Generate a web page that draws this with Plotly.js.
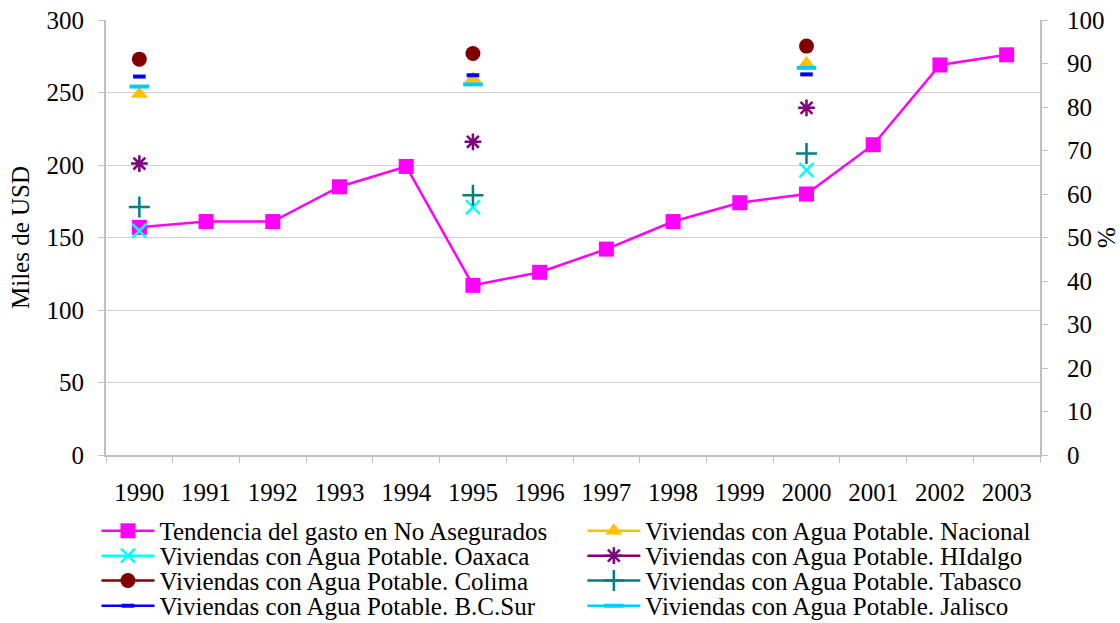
<!DOCTYPE html>
<html>
<head>
<meta charset="utf-8">
<script src="https://cdn.plot.ly/plotly-3.0.1.min.js"></script>
<style>html,body{margin:0;padding:0;background:#fff}#chart{width:1120px;height:623px}</style>
</head>
<body>
<div id="chart"></div>
<script>
const years = ["1990","1991","1992","1993","1994","1995","1996","1997","1998","1999","2000","2001","2002","2003"];
const gasto = [157,161,161,185,199,117,126,142,161,174,180,214,269,276];
const nacional = [83,null,null,null,null,86.5,null,null,null,null,90,null,null,null];
const oaxaca   = [51.5,null,null,null,null,57,null,null,null,null,65.5,null,null,null];
const hidalgo  = [67,null,null,null,null,72,null,null,null,null,79.8,null,null,null];
const colima   = [91,null,null,null,null,92.3,null,null,null,null,94,null,null,null];
const tabasco  = [57,null,null,null,null,59.7,null,null,null,null,69.3,null,null,null];
const bcsur    = [87,null,null,null,null,87.3,null,null,null,null,87.5,null,null,null];
const jalisco  = [84.7,null,null,null,null,85.2,null,null,null,null,89,null,null,null];

const FONT = "Liberation Serif, Times New Roman, serif";
function pct(name, y, color, symbol, size, lw, leg) {
  return {x: years, y: y, name: name, type: "scatter", mode: "lines+markers", yaxis: "y2", legend: leg,
    connectgaps: false, line: {color: color, width: 2.5},
    marker: {symbol: symbol, size: size, color: color, line: {color: color, width: lw}}};
}
const traces = [
  {x: years, y: gasto, name: "Tendencia del gasto en No Asegurados", type: "scatter", mode: "lines+markers",
   legend: "legend", line: {color: "#ff00ff", width: 2.5}, marker: {symbol: "square", size: 15, color: "#ff00ff"}},
  pct("Viviendas con Agua Potable. Nacional", nacional, "#ffc000", "triangle-up", 15, 0, "legend2"),
  pct("Viviendas con Agua Potable. Oaxaca", oaxaca, "#00ffff", "x-thin-open", 14, 2.5, "legend3"),
  pct("Viviendas con Agua Potable. HIdalgo", hidalgo, "#800080", "asterisk-open", 14, 2.5, "legend4"),
  pct("Viviendas con Agua Potable. Colima", colima, "#800000", "circle", 15, 0, "legend5"),
  pct("Viviendas con Agua Potable. Tabasco", tabasco, "#008080", "cross-thin-open", 15, 2.5, "legend6"),
  pct("Viviendas con Agua Potable. B.C.Sur", bcsur, "#0000ff", "line-ew-open", 9, 4, "legend7"),
  pct("Viviendas con Agua Potable. Jalisco", jalisco, "#00ccff", "line-ew-open", 14, 4, "legend8")
];
const colX = [-0.0102, 0.510];
const rowY = [-0.1745, -0.232, -0.289, -0.347];
function leg(i) {
  return {x: colX[i % 2], xanchor: "left", y: rowY[Math.floor(i / 2)], yanchor: "middle",
    itemwidth: 53, font: {family: FONT, size: 25, color: "#000"}, bgcolor: "rgba(0,0,0,0)", borderwidth: 0};
}
const layout = {
  width: 1120, height: 623,
  margin: {l: 106, r: 80, t: 19.5, b: 168, autoexpand: false},
  paper_bgcolor: "#fff", plot_bgcolor: "#fff",
  font: {family: FONT, size: 25, color: "#000"},
  showlegend: true,
  xaxis: {type: "category", tickson: "boundaries", ticks: "outside", ticklen: 6, tickcolor: "#c0c0c0",
    showgrid: false, showline: true, linecolor: "#c0c0c0", linewidth: 2, zeroline: false,
    tickfont: {family: FONT, size: 25}, range: [-0.5, 13.5], ticklabelstandoff: 14, automargin: false},
  yaxis: {range: [0, 300], tickvals: [0,50,100,150,200,250,300], ticks: "outside", ticklen: 6,
    tickcolor: "#c0c0c0", showline: true, linecolor: "#c0c0c0", linewidth: 2,
    showgrid: true, gridcolor: "#d0d0d0", gridwidth: 1, zeroline: false, automargin: false,
    title: {text: "Miles de USD", font: {family: FONT, size: 25}, standoff: 10},
    tickfont: {family: FONT, size: 25}, ticklabelstandoff: 9},
  yaxis2: {range: [0, 100], tickvals: [0,10,20,30,40,50,60,70,80,90,100], overlaying: "y", side: "right",
    ticks: "outside", ticklen: 6, tickcolor: "#c0c0c0", showline: true, linecolor: "#c0c0c0", linewidth: 2,
    showgrid: false, zeroline: false, automargin: false,
    title: {text: "%", font: {family: FONT, size: 25}, standoff: 8},
    tickfont: {family: FONT, size: 25}, ticklabelstandoff: 14}
};
for (let i = 0; i < 8; i++) layout[i === 0 ? "legend" : "legend" + (i + 1)] = leg(i);
Plotly.newPlot("chart", traces, layout, {displayModeBar: false, staticPlot: true});
</script>
</body>
</html>
